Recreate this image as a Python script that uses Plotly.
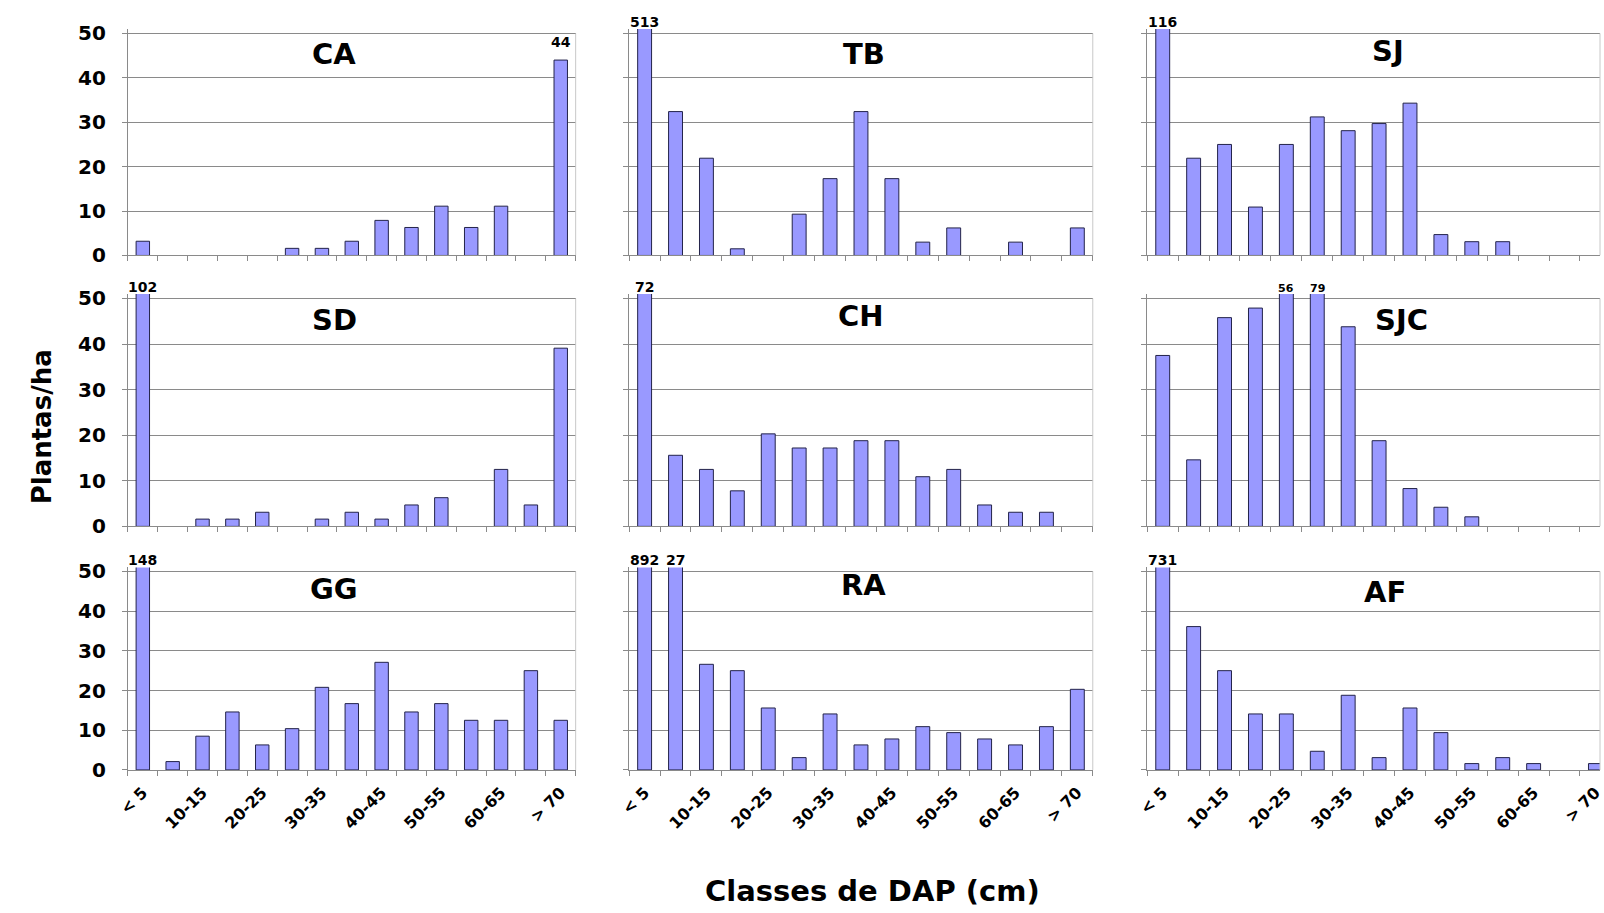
import plotly.graph_objects as go

# ---------------- data ----------------
categories = ["<5", "5-10", "10-15", "15-20", "20-25", "25-30", "30-35", "35-40",
              "40-45", "45-50", "50-55", "55-60", "60-65", "65-70", ">70"]
tick_labels = {"<5": "< 5", "10-15": "10-15", "20-25": "20-25", "30-35": "30-35",
               "40-45": "40-45", "50-55": "50-55", "60-65": "60-65", ">70": "> 70"}

site_names = ["CA", "TB", "SJ", "SD", "CH", "SJC", "GG", "RA", "AF"]

ca = [3.2, 0, 0, 0, 0, 1.6, 1.6, 3.2, 7.9, 6.3, 11.1, 6.3, 11.1, 0, 44]
tb = [513, 32.4, 21.9, 1.5, 0, 9.3, 17.3, 32.4, 17.3, 3.0, 6.2, 0, 3.0, 0, 6.2]
sj = [116, 21.9, 25.0, 10.9, 25.0, 31.2, 28.1, 29.7, 34.3, 4.7, 3.1, 3.1, 0, 0, 0]
sd = [102, 0, 1.6, 1.6, 3.1, 0, 1.6, 3.1, 1.6, 4.7, 6.3, 0, 12.5, 4.7, 39.1]
ch = [72, 15.6, 12.5, 7.8, 20.3, 17.2, 17.2, 18.8, 18.8, 10.9, 12.5, 4.7, 3.1, 3.1, 0]
sjc = [37.5, 14.6, 45.8, 47.9, 56, 79, 43.8, 18.8, 8.3, 4.2, 2.1, 0, 0, 0, 0]
gg = [148, 2.1, 8.5, 14.6, 6.3, 10.4, 20.8, 16.7, 27.1, 14.6, 16.7, 12.5, 12.5, 25.0, 12.5]
ra = [892, 127, 26.6, 25.0, 15.6, 3.1, 14.1, 6.3, 7.8, 10.9, 9.4, 7.8, 6.3, 10.9, 20.3]
af = [731, 36.1, 25.0, 14.1, 14.1, 4.7, 18.8, 3.1, 15.6, 9.4, 1.6, 3.1, 1.6, 0, 1.6]

site_values = [ca, tb, sj, sd, ch, sjc, gg, ra, af]

# value labels printed above bars (category -> text)
value_labels = [
    {">70": "44"},
    {"<5": "513"},
    {"<5": "116"},
    {"<5": "102"},
    {"<5": "72"},
    {"20-25": "56", "25-30": "79"},
    {"<5": "148"},
    {"<5": "892", "5-10": "27"},
    {"<5": "731"},
]

# ---------------- layout helpers ----------------
W, H = 1604, 913
Y_TOP = 51.0
FONT = "DejaVu Sans"
BAR = "#9999FF"
GRID = "#8a8a8a"

col_px = [(118, 570), (624, 1092), (1147, 1615)]   # plot-area left/right (px)
row_px = [(26, 253), (297, 530), (576, 779)]       # px of y=50 and y=0
title_xfrac = [0.461, 0.506, 0.531, 0.461, 0.50, 0.562, 0.461, 0.506, 0.526]
title_ypx = [47, 47, 44, 319, 315, 319, 594, 590, 597]

fig = go.Figure()
annotations = []
shapes = []
layout = {}

for i, (name, vals) in enumerate(zip(site_names, site_values)):
    r, c = divmod(i, 3)
    n = i + 1
    xa = "x" if n == 1 else f"x{n}"
    ya = "y" if n == 1 else f"y{n}"
    xkey = "xaxis" if n == 1 else f"xaxis{n}"
    ykey = "yaxis" if n == 1 else f"yaxis{n}"

    x0, x1 = col_px[c]
    cat_px = (x1 - x0) / len(categories)
    x1v = min(x1, W)
    xr = [-0.5, -0.5 + (x1v - x0) / cat_px]

    y50, y0 = row_px[r]
    upu = (y0 - y50) / 50.0
    ytop = y0 - Y_TOP * upu

    fig.add_trace(go.Bar(
        x=categories, y=vals, xaxis=xa, yaxis=ya, width=0.45,
        marker=dict(color=BAR,
                    line=dict(color="#23234a", width=[1 if v > 0 else 0 for v in vals])),
        showlegend=False, hoverinfo="x+y",
    ))

    show_xlab = (r == 2)
    layout[xkey] = dict(
        domain=[x0 / W, x1v / W], anchor=ya, type="category",
        categoryorder="array", categoryarray=categories,
        range=xr, showgrid=False, zeroline=False,
        showline=True, linecolor=GRID, linewidth=1,
        ticks="outside", ticklen=5, tickcolor=GRID, tickson="boundaries",
        tickvals=categories,
        ticktext=[tick_labels.get(cat, "") for cat in categories],
        showticklabels=show_xlab, tickangle=-45,
        tickfont=dict(family=FONT, size=16, color="black", weight="bold"),
        ticklabelstandoff=6,
    )
    layout[ykey] = dict(
        domain=[1 - y0 / H, 1 - ytop / H], anchor=xa,
        range=[0, Y_TOP], tickvals=[0, 10, 20, 30, 40, 50],
        showgrid=True, gridcolor=GRID, gridwidth=1, zeroline=False,
        showline=True, linecolor=GRID, linewidth=1,
        ticks="outside", ticklen=5, tickcolor=GRID,
        showticklabels=(c == 0), ticklabelstandoff=12,
        tickfont=dict(family=FONT, size=20, color="black", weight="bold"),
    )

    # light plot-area border on the right
    shapes.append(dict(type="line", xref=f"{xa} domain", yref=ya,
                       x0=1, x1=1, y0=0, y1=50,
                       line=dict(color="#c8c8c8", width=1)))

    # panel title
    annotations.append(dict(
        text=name, xref=f"{xa} domain", x=title_xfrac[i],
        yref="paper", y=1 - title_ypx[i] / H, yanchor="middle", xanchor="center",
        showarrow=False, font=dict(family=FONT, size=29, color="black", weight="bold"),
    ))

    # value labels above bars
    for cat, txt in value_labels[i].items():
        v = vals[categories.index(cat)]
        small = (name == "SJC")
        annotations.append(dict(
            text=txt, xref=xa, x=cat, yref=ya, y=min(v, 50.3),
            yanchor="bottom", xanchor="center", showarrow=False,
            yshift=(8 if v < 50 else 0),
            font=dict(family=FONT, size=11 if small else 14, color="black", weight="bold"),
        ))

# axis titles
annotations.append(dict(
    text="Plantas/ha", xref="paper", yref="paper", x=31 / W, y=1 - 428 / H,
    textangle=-90, showarrow=False, xanchor="center", yanchor="middle",
    font=dict(family=FONT, size=26, color="black", weight="bold"),
))
annotations.append(dict(
    text="Classes de DAP (cm)", xref="paper", yref="paper", x=870 / W, y=1 - 903 / H,
    showarrow=False, xanchor="center", yanchor="middle",
    font=dict(family=FONT, size=29, color="black", weight="bold"),
))

fig.update_layout(
    width=W, height=H, margin=dict(l=0, r=0, t=0, b=0),
    paper_bgcolor="white", plot_bgcolor="white",
    bargap=0.55, annotations=annotations, shapes=shapes,
    **layout,
)

fig.write_html("out.html")
